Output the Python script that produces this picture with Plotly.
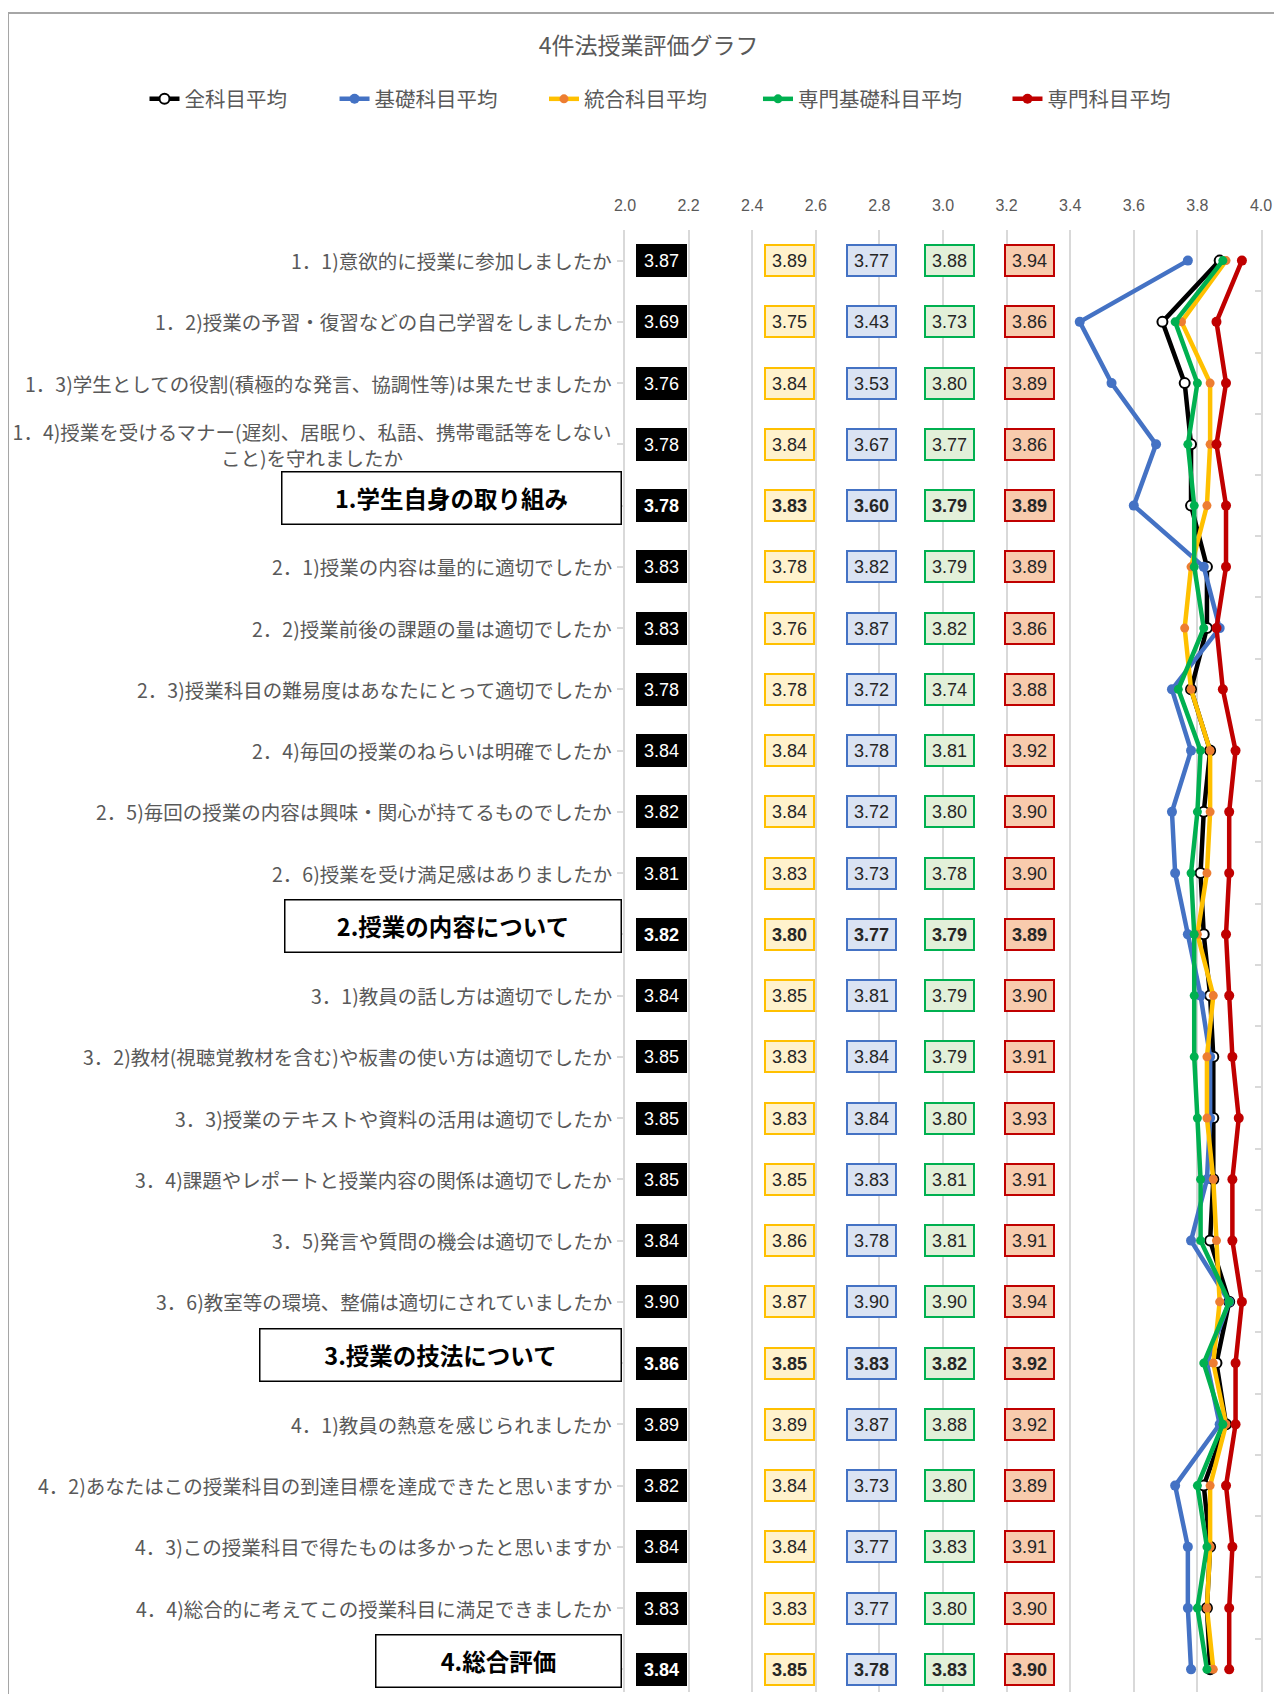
import plotly.graph_objects as go

# ---------------- data ----------------
labels = [
    "1．1)意欲的に授業に参加しましたか",
    "1．2)授業の予習・復習などの自己学習をしましたか",
    "1．3)学生としての役割(積極的な発言、協調性等)は果たせましたか",
    "1．4)授業を受けるマナー(遅刻、居眠り、私語、携帯電話等をしない<br>こと)を守れましたか",
    "1.学生自身の取り組み",
    "2．1)授業の内容は量的に適切でしたか",
    "2．2)授業前後の課題の量は適切でしたか",
    "2．3)授業科目の難易度はあなたにとって適切でしたか",
    "2．4)毎回の授業のねらいは明確でしたか",
    "2．5)毎回の授業の内容は興味・関心が持てるものでしたか",
    "2．6)授業を受け満足感はありましたか",
    "2.授業の内容について",
    "3．1)教員の話し方は適切でしたか",
    "3．2)教材(視聴覚教材を含む)や板書の使い方は適切でしたか",
    "3．3)授業のテキストや資料の活用は適切でしたか",
    "3．4)課題やレポートと授業内容の関係は適切でしたか",
    "3．5)発言や質問の機会は適切でしたか",
    "3．6)教室等の環境、整備は適切にされていましたか",
    "3.授業の技法について",
    "4．1)教員の熱意を感じられましたか",
    "4．2)あなたはこの授業科目の到達目標を達成できたと思いますか",
    "4．3)この授業科目で得たものは多かったと思いますか",
    "4．4)総合的に考えてこの授業科目に満足できましたか",
    "4.総合評価",
]

all_avg = [3.87, 3.69, 3.76, 3.78, 3.78,
           3.83, 3.83, 3.78, 3.84, 3.82, 3.81, 3.82,
           3.84, 3.85, 3.85, 3.85, 3.84, 3.90, 3.86,
           3.89, 3.82, 3.84, 3.83, 3.84]
kiso = [3.77, 3.43, 3.53, 3.67, 3.60,
        3.82, 3.87, 3.72, 3.78, 3.72, 3.73, 3.77,
        3.81, 3.84, 3.84, 3.83, 3.78, 3.90, 3.83,
        3.87, 3.73, 3.77, 3.77, 3.78]
tougou = [3.89, 3.75, 3.84, 3.84, 3.83,
          3.78, 3.76, 3.78, 3.84, 3.84, 3.83, 3.80,
          3.85, 3.83, 3.83, 3.85, 3.86, 3.87, 3.85,
          3.89, 3.84, 3.84, 3.83, 3.85]
senmon_kiso = [3.88, 3.73, 3.80, 3.77, 3.79,
               3.79, 3.82, 3.74, 3.81, 3.80, 3.78, 3.79,
               3.79, 3.79, 3.80, 3.81, 3.81, 3.90, 3.82,
               3.88, 3.80, 3.83, 3.80, 3.83]
senmon = [3.94, 3.86, 3.89, 3.86, 3.89,
          3.89, 3.86, 3.88, 3.92, 3.90, 3.90, 3.89,
          3.90, 3.91, 3.93, 3.91, 3.91, 3.94, 3.92,
          3.92, 3.89, 3.91, 3.90, 3.90]

x_ticks = [2.0, 2.2, 2.4, 2.6, 2.8, 3.0, 3.2, 3.4, 3.6, 3.8, 4.0]

# ---------------- styling ----------------
JP = "Noto Sans CJK JP"
NUM = "Liberation Sans, Arial, sans-serif"
GRAY_TXT = "#595959"
GRID = "#D9D9D9"

rows = list(range(len(labels)))
is_header = [")" not in lab for lab in labels]

fig = go.Figure()

series = [
    ("全科目平均", all_avg, "#000000",
     dict(color="#FFFFFF", size=10, line=dict(color="#000000", width=2)), "legend"),
    ("基礎科目平均", kiso, "#4472C4",
     dict(color="#4472C4", size=10, line=dict(width=0)), "legend2"),
    ("統合科目平均", tougou, "#FFC000",
     dict(color="#ED7D31", size=9, line=dict(width=0)), "legend3"),
    ("専門基礎科目平均", senmon_kiso, "#00B050",
     dict(color="#00B050", size=9, line=dict(width=0)), "legend4"),
    ("専門科目平均", senmon, "#C00000",
     dict(color="#C00000", size=10, line=dict(width=0)), "legend5"),
]
for name, vals, col, mk, lg in series:
    fig.add_trace(go.Scatter(
        x=vals, y=rows, name=name, mode="lines+markers",
        line=dict(color=col, width=4.5), marker=mk, legend=lg,
        cliponaxis=False,
    ))

# dummy trace so the right-hand axis (row separators) is drawn
fig.add_trace(go.Scatter(x=[None], y=[None], yaxis="y2", showlegend=False,
                         hoverinfo="skip"))

annotations = []

# left category labels (wrapped labels drawn line by line, centred in a block)
LINE_GAP = 26
for i, lab in enumerate(labels):
    if is_header[i]:
        continue
    parts = lab.split("<br>")
    n = len(parts)
    for k, part in enumerate(parts):
        ann = dict(
            xref="paper", yref="y", x=-0.0173, y=i, xanchor="right", yanchor="middle",
            yshift=((n - 1) / 2 - k) * LINE_GAP,
            text=part, showarrow=False, align="center",
            font=dict(family=JP, size=19.5, color=GRAY_TXT),
        )
        if n > 1:
            ann["width"] = 600
        annotations.append(ann)

# header boxes
header_widths = [338, 335, 360, 244]
hi = 0
for i, lab in enumerate(labels):
    if not is_header[i]:
        continue
    annotations.append(dict(
        xref="paper", yref="y", x=-0.0047, y=i, xanchor="right", yanchor="middle",
        yshift=8,
        text="<b>" + lab + "</b>", showarrow=False, align="center", valign="middle",
        width=header_widths[hi], height=51, borderpad=0,
        bordercolor="#000000", borderwidth=1.5, bgcolor="#FFFFFF",
        font=dict(family=JP, size=23.5, color="#000000"),
    ))
    hi += 1

# value boxes
box_cols = [
    (all_avg, 2.114, "#000000", "#000000", "#FFFFFF"),
    (tougou, 2.517, "#FFF2CC", "#FFC000", "#262626"),
    (kiso, 2.776, "#DAE3F3", "#4472C4", "#262626"),
    (senmon_kiso, 3.019, "#E2F0D9", "#00B050", "#262626"),
    (senmon, 3.271, "#F8CBAD", "#C00000", "#262626"),
]
for vals, xpos, bg, bc, fc in box_cols:
    for i, v in enumerate(vals):
        txt = f"{v:.2f}"
        if is_header[i]:
            txt = "<b>" + txt + "</b>"
        annotations.append(dict(
            xref="x", yref="y", x=xpos, y=i, xanchor="center", yanchor="middle",
            text=txt, showarrow=False, align="center", valign="middle",
            width=45, height=27, borderpad=1, borderwidth=2,
            bgcolor=bg, bordercolor=bc,
            font=dict(family=NUM, size=18, color=fc),
        ))

legend_common = dict(
    orientation="h", yanchor="middle", y=1.0896, xanchor="left",
    font=dict(family=JP, size=20.5, color=GRAY_TXT),
    bgcolor="rgba(0,0,0,0)", borderwidth=0,
)
legend_x = [-0.7555, -0.4567, -0.1274, 0.2091, 0.6014]

fig.update_layout(
    width=1266, height=1686,
    margin=dict(l=617, r=13, t=222, b=2),
    paper_bgcolor="#FFFFFF", plot_bgcolor="#FFFFFF",
    title=dict(text="4件法授業評価グラフ", x=0.506, y=0.9775, xref="container",
               yref="container", xanchor="center", yanchor="middle",
               font=dict(family=JP, size=23, color=GRAY_TXT)),
    xaxis=dict(range=[2.0, 4.0], side="top", tickvals=x_ticks,
               ticktext=[f"{t:.1f}" for t in x_ticks],
               showgrid=True, gridcolor=GRID, gridwidth=1.5,
               zeroline=False, showline=False,
               ticks="outside", ticklen=12, tickcolor="rgba(0,0,0,0)",
               tickfont=dict(family=NUM, size=16, color=GRAY_TXT)),
    yaxis=dict(range=[23.37, -0.5], tickvals=rows, showticklabels=False,
               ticks="outside", ticklen=6, tickcolor=GRID, tickwidth=1.5,
               showline=True, linecolor=GRID, linewidth=1.5,
               showgrid=False, zeroline=False),
    yaxis2=dict(range=[23.37, -0.5], overlaying="y", side="right",
                tickvals=[r + 0.5 for r in rows[:-1]], showticklabels=False,
                ticks="inside", ticklen=6, tickcolor=GRID, tickwidth=1.5,
                showline=True, linecolor=GRID, linewidth=1.5,
                showgrid=False, zeroline=False),
    legend=dict(x=legend_x[0], **legend_common),
    legend2=dict(x=legend_x[1], **legend_common),
    legend3=dict(x=legend_x[2], **legend_common),
    legend4=dict(x=legend_x[3], **legend_common),
    legend5=dict(x=legend_x[4], **legend_common),
    annotations=annotations,
    shapes=[dict(type="rect", xref="paper", yref="paper",
                 x0=-0.9701, x1=1.2, y0=-0.2, y1=1.1484,
                 line=dict(color="#A6A6A6", width=2), fillcolor="rgba(0,0,0,0)",
                 layer="below")],
    showlegend=True,
)

fig.write_html("out.html")
